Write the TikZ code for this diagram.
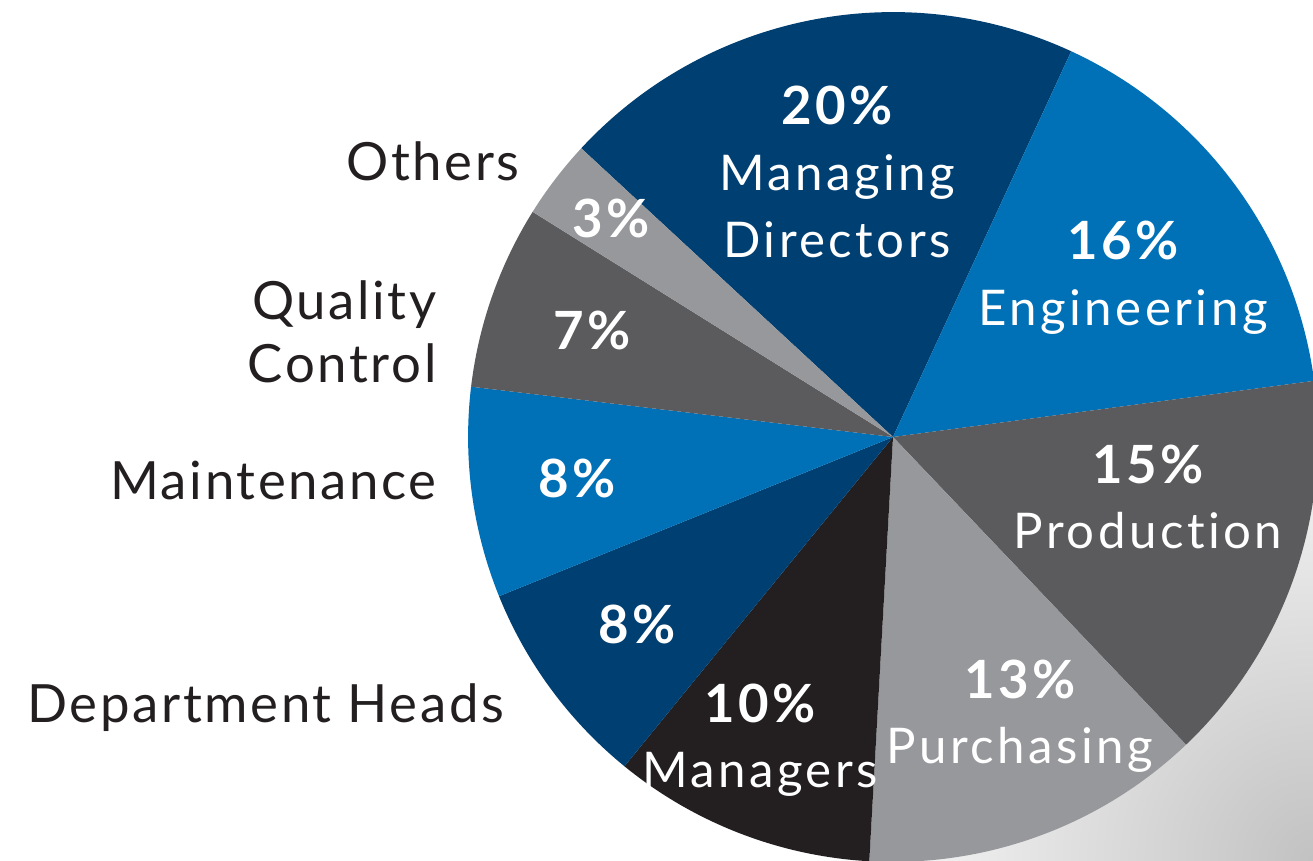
\documentclass[tikz,border=0pt]{standalone}
\usepackage{fontspec}
\setmainfont{Lato}[Ligatures=NoCommon]
\usetikzlibrary{positioning,calc}
\definecolor{navy}{HTML}{003F72}
\definecolor{azure}{HTML}{0071B7}
\definecolor{slate}{HTML}{5B5B5E}
\definecolor{ash}{HTML}{97989C}
\definecolor{coal}{HTML}{231F20}
\newcommand{\pieradius}{8.5cm}

\begin{document}
\begin{tikzpicture}[x=0.02cm, y=0.02cm, node distance=1.32cm, on grid,
    pct/.style={font=\bfseries\fontsize{30}{36}\selectfont\addfontfeature{LetterSpace=7}, text=white, anchor=base, inner sep=0pt},
    slicename/.style={font=\fontsize{28}{38.5}\selectfont\addfontfeature{LetterSpace=7}, text=white, align=center, anchor=base, inner sep=0pt},
    outlabel/.style={font=\fontsize{30}{36}\selectfont\addfontfeature{LetterSpace=5}, text=coal, inner sep=0pt}]
    \useasboundingbox (0,0) rectangle (1313,860);%
    \clip (0,0) rectangle (1313,860);%
    \fill[white] (0,0) rectangle (1313,860);%
    \shade[inner color=black!24, outer color=white] (1313,0) circle[radius=10cm];%
    \coordinate (ctr) at (893,423);%
    % slices, clockwise from Managing Directors
    \foreach \from/\to/\col in {137.2/65.2/navy, 65.2/7.6/azure, 7.6/-46.4/slate,
        -46.4/-93.2/ash, -93.2/-129.2/coal, -129.2/-158/navy, -158/-186.8/azure,
        -186.8/-212/slate, -212/-222.8/ash}
      \fill[\col] (ctr) -- ++(\from:\pieradius)
        arc[start angle=\from, end angle=\to, radius=\pieradius] -- cycle;
    % labels inside the slices
    \node[pct] (mdpct) at (837,735) {20\%};%
    \node[slicename] (mdname) [below=2.66cm of mdpct.base, anchor=base] {Managing\\Directors};%
    \node[pct] (engpct) at (1123,600) {16\%};%
    \node[slicename] (engname) [below=of engpct.base, anchor=base] {Engineering};%
    \node[pct] (prodpct) at (1148,377) {15\%};%
    \node[slicename] (prodname) [below=of prodpct.base, anchor=base] {Production};%
    \node[pct] (purpct) at (1020,162) {13\%};%
    \node[slicename] (purname) [below=of purpct.base, anchor=base] {Purchasing};%
    \node[pct] (manpct) at (760,138) {10\%};%
    \node[slicename] (manname) [below=of manpct.base, anchor=base] {Managers};%
    \node[pct] (dhpct) at (637,217) {8\%};%
    \node[pct] (maintpct) at (577,362) {8\%};%
    \node[pct] (qcpct) at (592,510) {7\%};%
    \node[pct] (othpct) at (611,622) {3\%};%
    % labels outside the pie
    \node[outlabel, anchor=base east] (oth) at (520,679) {Others};%
    \node[outlabel, anchor=base east, align=right] (qc) at (437,477) {Quality\\Control};%
    \node[outlabel, anchor=base east] (maint) at (437,360) {Maintenance};%
    \node[outlabel, anchor=base west] (dh) at (27,138) {Department Heads};%
  \end{tikzpicture}
\end{document}
